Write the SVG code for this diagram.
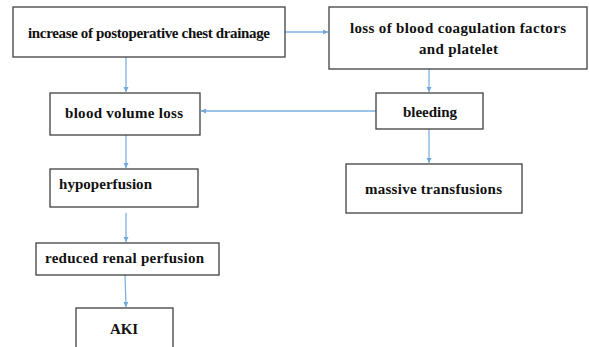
<svg xmlns="http://www.w3.org/2000/svg" width="589" height="347" viewBox="0 0 589 347">
<defs>
<marker id="ah" markerWidth="6" markerHeight="6" refX="5" refY="3" orient="auto" markerUnits="userSpaceOnUse">
<path d="M0,0.5 L5,3 L0,5.5 Z" fill="#6FA8DC"/>
</marker>
<style>
.box{fill:#ffffff;stroke:#404040;stroke-width:1.3}
.t{font-family:"Liberation Serif","Times New Roman",serif;font-weight:bold;font-size:15px;fill:#111111}
.c{stroke:#7DB0E0;stroke-width:1.3;fill:none;marker-end:url(#ah)}
</style>
</defs>
<rect width="589" height="347" fill="#ffffff"/>
<g id="connectors">
<path class="c" d="M285,32 H328"/>
<path class="c" d="M126,57 V92"/>
<path class="c" d="M429,69 V92"/>
<path class="c" d="M376,111 H201"/>
<path class="c" d="M126,135 V168"/>
<path class="c" d="M429,129 V163"/>
<path class="c" d="M126,213 V242"/>
<path class="c" d="M125,275 L126,307"/>
</g>
<g id="n1">
<rect class="box" x="13" y="7" width="272" height="50"/>
<text class="t" x="28" y="37.5" textLength="242" lengthAdjust="spacing">increase of postoperative chest drainage</text>
</g>
<g id="n2">
<rect class="box" x="329" y="7" width="258" height="62"/>
<text class="t" x="350" y="32.5" textLength="216" lengthAdjust="spacing">loss of blood coagulation factors</text>
<text class="t" x="419" y="53.5" textLength="79" lengthAdjust="spacing">and platelet</text>
</g>
<g id="n3">
<rect class="box" x="50" y="93" width="150" height="42"/>
<text class="t" x="65" y="117.5" textLength="118" lengthAdjust="spacing">blood volume loss</text>
</g>
<g id="n4">
<rect class="box" x="376" y="93" width="107" height="36"/>
<text class="t" x="403" y="116.5" textLength="54" lengthAdjust="spacing">bleeding</text>
</g>
<g id="n5">
<rect class="box" x="346" y="164" width="176" height="49"/>
<text class="t" x="365" y="193.5" textLength="137" lengthAdjust="spacing">massive transfusions</text>
</g>
<g id="n6">
<rect class="box" x="50" y="169" width="148" height="38"/>
<text class="t" x="59" y="188.5" textLength="93" lengthAdjust="spacing">hypoperfusion</text>
</g>
<g id="n7">
<rect class="box" x="36" y="243" width="183" height="32"/>
<text class="t" x="45" y="262.5" textLength="159" lengthAdjust="spacing">reduced renal perfusion</text>
</g>
<g id="n8">
<rect class="box" x="76" y="308" width="97" height="45"/>
<text class="t" x="110" y="334" textLength="28" lengthAdjust="spacing">AKI</text>
</g>
</svg>
